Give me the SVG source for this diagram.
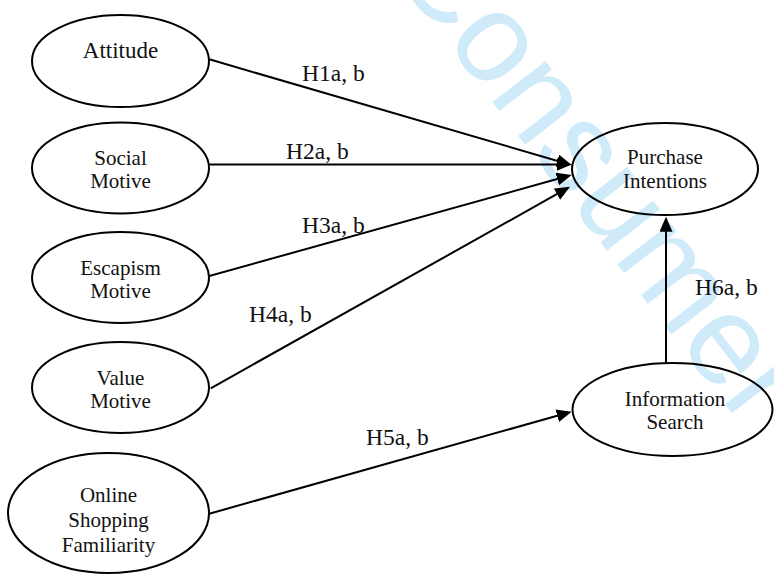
<svg xmlns="http://www.w3.org/2000/svg" width="774" height="578" viewBox="0 0 774 578">
<style>
.node ellipse{fill:none;stroke:#000;stroke-width:2}
.node text{font-family:"Liberation Serif","Times New Roman",serif;font-size:21px;fill:#111;text-anchor:middle}
.edge line{stroke:#000;stroke-width:2;marker-end:url(#arr)}
.lbl{font-family:"Liberation Serif","Times New Roman",serif;font-size:23.5px;fill:#111}
.wm{font-family:"Liberation Sans",Arial,sans-serif;font-size:127px;fill:#cfeaf9}
</style>
<defs>
<marker id="arr" markerUnits="userSpaceOnUse" markerWidth="16" markerHeight="14" refX="12" refY="6.5" orient="auto">
<path d="M0,0 L15,6.5 L0,13 Z" fill="#000"/>
</marker>
</defs>
<rect width="774" height="578" fill="#fff"/>
<text class="wm" transform="translate(388,-33.5) rotate(52.4)">Consumer</text>
<g id="attitude" class="node"><ellipse cx="120.5" cy="61" rx="88.5" ry="46"/><text x="120.5" y="58" style="font-size:23px">Attitude</text></g>
<g id="social" class="node"><ellipse cx="120.5" cy="168" rx="88.5" ry="45.5"/><text x="120.5" y="165">Social</text><text x="120.5" y="188">Motive</text></g>
<g id="escapism" class="node"><ellipse cx="120.5" cy="277.5" rx="88.5" ry="45.5"/><text x="120.5" y="275">Escapism</text><text x="120.5" y="298">Motive</text></g>
<g id="value" class="node"><ellipse cx="120.5" cy="387.5" rx="88.5" ry="45.5"/><text x="120.5" y="385">Value</text><text x="120.5" y="408">Motive</text></g>
<g id="familiarity" class="node"><ellipse cx="108.5" cy="513" rx="100.5" ry="60"/><text x="108.5" y="502">Online</text><text x="108.5" y="527">Shopping</text><text x="108.5" y="552">Familiarity</text></g>
<g id="purchase" class="node"><ellipse cx="665" cy="169" rx="93" ry="46"/><text x="665" y="164">Purchase</text><text x="665" y="188">Intentions</text></g>
<g id="search" class="node"><ellipse cx="672.5" cy="409.5" rx="100" ry="46.5"/><text x="675" y="406">Information</text><text x="675" y="428.5">Search</text></g>
<g id="connectors" class="edge">
<line x1="209.3" y1="59.3" x2="568.8" y2="164.2"/>
<line x1="209.3" y1="164.5" x2="568.7" y2="164.5"/>
<line x1="209.3" y1="276" x2="568.8" y2="175.8"/>
<line x1="210.7" y1="388.3" x2="567.4" y2="188.2"/>
<line x1="208.3" y1="514" x2="568.8" y2="412.5"/>
<line x1="666" y1="363" x2="666" y2="219.7"/>
</g>
<g id="labels">
<text class="lbl" x="302" y="81">H1a, b</text>
<text class="lbl" x="286" y="159">H2a, b</text>
<text class="lbl" x="302" y="232.5">H3a, b</text>
<text class="lbl" x="249" y="321.5">H4a, b</text>
<text class="lbl" x="366" y="445">H5a, b</text>
<text class="lbl" x="695" y="295">H6a, b</text>
</g>
</svg>
